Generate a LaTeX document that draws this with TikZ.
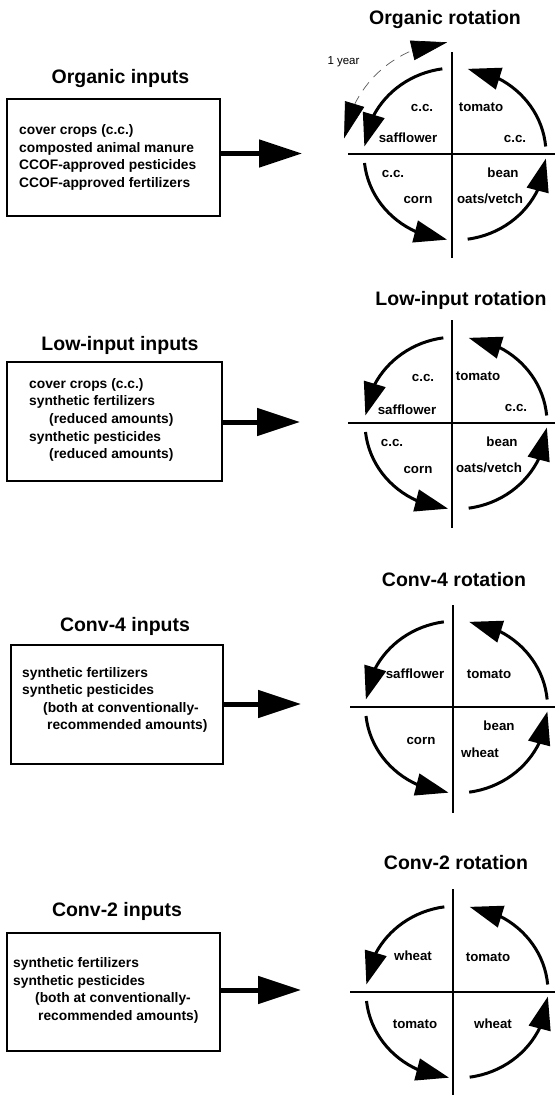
\documentclass[tikz,border=0pt]{standalone}
\usepackage{fontspec}
\setmainfont{Liberation Sans}
\usetikzlibrary{arrows.meta,bending}
\newcommand\rotcycle[1]{%
  \foreach \s/\e in {98/175,186/265,278/357,5/82}{%
    \draw[cyc] ([shift={(\s:91 and 86)}]#1) arc[start angle=\s,end angle=\e,x radius=91,y radius=86];
  }%
}
\begin{document}
\begin{tikzpicture}[x=1pt,y=1pt,
  title/.style={font=\fontsize{19.5}{22}\selectfont\bfseries, anchor=base, inner sep=0},
  lab/.style={font=\fontsize{13.3}{16}\selectfont\bfseries, anchor=base, inner sep=0},
  boxtext/.style={font=\fontsize{13.8}{17.6}\selectfont\bfseries, align=left, anchor=west, inner sep=0},
  inbox/.style={draw, line width=2pt, inner sep=0},
  axis/.style={line width=2pt},
  cyc/.style={line width=3pt, -{Triangle[length=33pt,width=22pt]}},
  feed/.style={line width=5pt, -{Triangle[length=43pt,width=27pt]}}
]
\useasboundingbox (0,0) rectangle (555,-1095);

% ---------------- Panel 1: Organic ----------------
\node[title] (t1l) at (120.5,-83) {Organic inputs};
\node[title] (t1r) at (445,-24.5) {Organic rotation};
\node[inbox, minimum width=213, minimum height=117] (box1) at (113.5,-157.5) {};
\node[boxtext] (bt1) at (19,-157.3) {cover crops (c.c.)\\composted animal manure\\CCOF-approved pesticides\\CCOF-approved fertilizers};
\coordinate (a1) at (302,-153.5);
\draw[feed] (box1.east |- a1) -- (a1);
\coordinate (c1) at (455,-154);
\draw[axis] (452,-52) -- (452,-258);
\draw[axis] (348,-154) -- (555,-154);
\rotcycle{c1}
\draw[line width=0.7pt, black!65, dash pattern=on 10pt off 7pt,
  {Triangle[length=36pt,width=20pt,color=black]}-{Triangle[length=36pt,width=20pt,color=black]}]
  ([shift={(172:112)}]c1) arc[start angle=172,end angle=94,radius=112];
\node[font=\fontsize{11.5}{13}\selectfont, anchor=base, inner sep=0] (yr) at (343.5,-64.5) {1 year};
\node[lab] (l1a) at (422,-111.5) {c.c.};
\node[lab] (l1b) at (481,-111.5) {tomato};
\node[lab] (l1c) at (408,-142.5) {safflower};
\node[lab] (l1d) at (515,-142.5) {c.c.};
\node[lab] (l1e) at (393,-177.5) {c.c.};
\node[lab] (l1f) at (503,-177.5) {bean};
\node[lab] (l1g) at (418,-203.5) {corn};
\node[lab] (l1h) at (490,-203.5) {oats/vetch};

% ---------------- Panel 2: Low-input ----------------
\node[title] (t2l) at (120,-350) {Low-input inputs};
\node[title] (t2r) at (461,-305) {Low-input rotation};
\node[inbox, minimum width=215, minimum height=119] (box2) at (114.5,-421.5) {};
\node[boxtext] (bt2) at (29,-419.9) {cover crops (c.c.)\\synthetic fertilizers\\\hspace*{20pt}(reduced amounts)\\synthetic pesticides\\\hspace*{20pt}(reduced amounts)};
\coordinate (a2) at (300,-422);
\draw[feed] (box2.east |- a2) -- (a2);
\coordinate (c2) at (456,-423);
\draw[axis] (452,-320) -- (452,-528);
\draw[axis] (348,-423) -- (555,-423);
\rotcycle{c2}
\node[lab] (l2a) at (423,-381) {c.c.};
\node[lab] (l2b) at (478,-380.5) {tomato};
\node[lab] (l2c) at (407,-414.5) {safflower};
\node[lab] (l2d) at (516,-411) {c.c.};
\node[lab] (l2e) at (392,-446) {c.c.};
\node[lab] (l2f) at (502,-446) {bean};
\node[lab] (l2g) at (418,-473) {corn};
\node[lab] (l2h) at (489,-472.5) {oats/vetch};

% ---------------- Panel 3: Conv-4 ----------------
\node[title] (t3l) at (125,-631.5) {Conv-4 inputs};
\node[title] (t3r) at (454,-586) {Conv-4 rotation};
\node[inbox, minimum width=212, minimum height=119] (box3) at (117,-704.5) {};
\node[boxtext] (bt3) at (22,-700) {synthetic fertilizers\\synthetic pesticides\\\hspace*{21pt}(both at conventionally-\\\hspace*{25pt}recommended amounts)};
\coordinate (a3) at (301,-704);
\draw[feed] (box3.east |- a3) -- (a3);
\coordinate (c3) at (456.5,-707);
\draw[axis] (453,-605) -- (453,-813);
\draw[axis] (350,-707) -- (555,-707);
\rotcycle{c3}
\node[lab] (l3a) at (415,-678.5) {safflower};
\node[lab] (l3b) at (489,-678.5) {tomato};
\node[lab] (l3c) at (499,-730) {bean};
\node[lab] (l3d) at (421,-744.3) {corn};
\node[lab] (l3e) at (480,-757.3) {wheat};

% ---------------- Panel 4: Conv-2 ----------------
\node[title] (t4l) at (117,-916.5) {Conv-2 inputs};
\node[title] (t4r) at (456,-869) {Conv-2 rotation};
\node[inbox, minimum width=213, minimum height=118] (box4) at (113.5,-992) {};
\node[boxtext] (bt4) at (13,-990.5) {synthetic fertilizers\\synthetic pesticides\\\hspace*{22pt}(both at conventionally-\\\hspace*{25pt}recommended amounts)};
\coordinate (a4) at (301,-990);
\draw[feed] (box4.east |- a4) -- (a4);
\coordinate (c4) at (457,-992);
\draw[axis] (453,-889) -- (453,-1095);
\draw[axis] (350,-992) -- (555,-992);
\rotcycle{c4}
\node[lab] (l4a) at (413,-960.7) {wheat};
\node[lab] (l4b) at (488,-961.5) {tomato};
\node[lab] (l4c) at (415,-1028.3) {tomato};
\node[lab] (l4d) at (493,-1028.3) {wheat};
\end{tikzpicture}
\end{document}
